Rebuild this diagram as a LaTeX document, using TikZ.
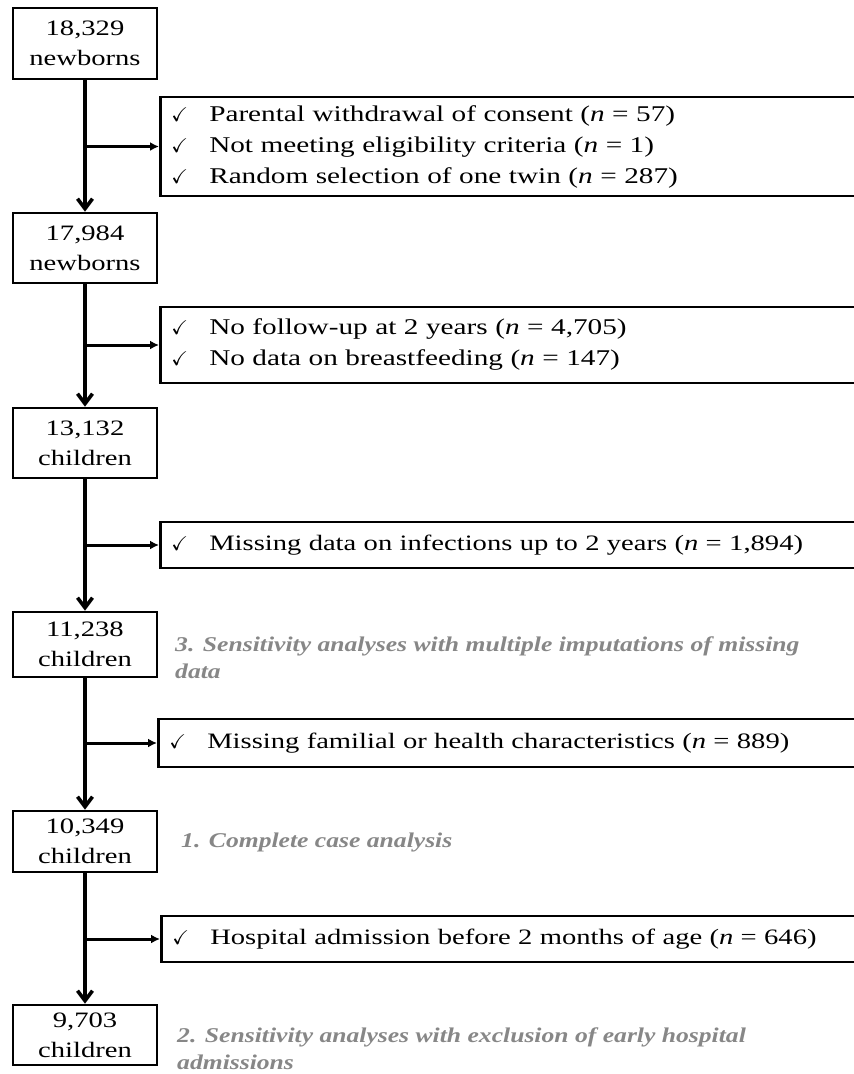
\documentclass[tikz,border=0pt]{standalone}
\usepackage{amssymb}
\usepackage{fontspec}
\setmainfont[FakeStretch=1.3]{Liberation Serif}
\newfontfamily\labfont[FakeStretch=1.22]{Liberation Serif}
\usetikzlibrary{arrows.meta}
\definecolor{labgray}{RGB}{135,135,135}
\newcommand{\ck}{\makebox[38pt][l]{\fontsize{20}{20}\selectfont$\checkmark$}}
\begin{document}
\begin{tikzpicture}[x=1pt,y=-1pt,
  box/.style={draw, line width=2.6pt, minimum width=144pt, inner sep=0pt, align=center,
              font=\fontsize{22}{30}\selectfont},
  excl/.style={draw, line width=2.5pt, anchor=west, inner xsep=11pt, inner ysep=0pt,
               text width=700pt, align=left, font=\fontsize{22}{31}\selectfont},
  wide/.style={font=\fontsize{22.5}{31}\selectfont},
  lab/.style={anchor=west, align=left, text=labgray, inner sep=0pt,
              font=\fontsize{21}{27}\selectfont\labfont\bfseries\itshape},
  varrow/.style={line width=3.6pt, -{Straight Barb[length=10pt,width=15pt]}},
  harrow/.style={line width=3pt, -{Latex[length=9pt,width=9pt]}}
]
\useasboundingbox (0,0) rectangle (854,1074);
\clip (0,0) rectangle (854,1074);
\fill[white] (0,0) rectangle (854,1074);

% main boxes
\node[box, minimum height=71pt] (b1) at (85,43.5) {18,329\\newborns};
\node[box, minimum height=70pt] (b2) at (85,248) {17,984\\newborns};
\node[box, minimum height=70pt] (b3) at (85,443) {13,132\\children};
\node[box, minimum height=65pt] (b4) at (85,644.5) {11,238\\children};
\node[box, minimum height=61pt] (b5) at (85,841.5) {10,349\\children};
\node[box, minimum height=60pt] (b6) at (85,1035) {9,703\\children};

% exclusion boxes
\node[excl, wide, minimum height=99pt] (e1) at (159,146.5) {\ck Parental withdrawal of consent (\textit{n} = 57)\\
  \ck Not meeting eligibility criteria (\textit{n} = 1)\\
  \ck Random selection of one twin (\textit{n} = 287)};
\node[excl, wide, minimum height=76pt] (e2) at (159,345) {\ck No follow-up at 2 years (\textit{n} = 4,705)\\
  \ck No data on breastfeeding (\textit{n} = 147)};
\node[excl, minimum height=46pt] (e3) at (159,545) {\ck Missing data on infections up to 2 years (\textit{n} = 1,894)};
\node[excl, minimum height=48pt] (e4) at (157,743) {\ck Missing familial or health characteristics (\textit{n} = 889)};
\node[excl, minimum height=46pt] (e5) at (160,939) {\ck Hospital admission before 2 months of age (\textit{n} = 646)};

% labels
\node[lab] (l3) at (175,658) {3. Sensitivity analyses with multiple imputations of missing\\data};
\node[lab] (l1) at (181,842) {1. Complete case analysis};
\node[lab] (l2) at (177,1049) {2. Sensitivity analyses with exclusion of early hospital\\admissions};

% vertical flow
\draw[varrow] (b1.south) -- (b2.north);
\draw[varrow] (b2.south) -- (b3.north);
\draw[varrow] (b3.south) -- (b4.north);
\draw[varrow] (b4.south) -- (b5.north);
\draw[varrow] (b5.south) -- (b6.north);

% side arrows
\foreach \b/\e in {b1/e1,b2/e2,b3/e3,b4/e4,b5/e5}{
  \coordinate (j\e) at (\b.south |- \e.west);
  \draw[harrow] (j\e) -- (\e.west);
}
\end{tikzpicture}
\end{document}
